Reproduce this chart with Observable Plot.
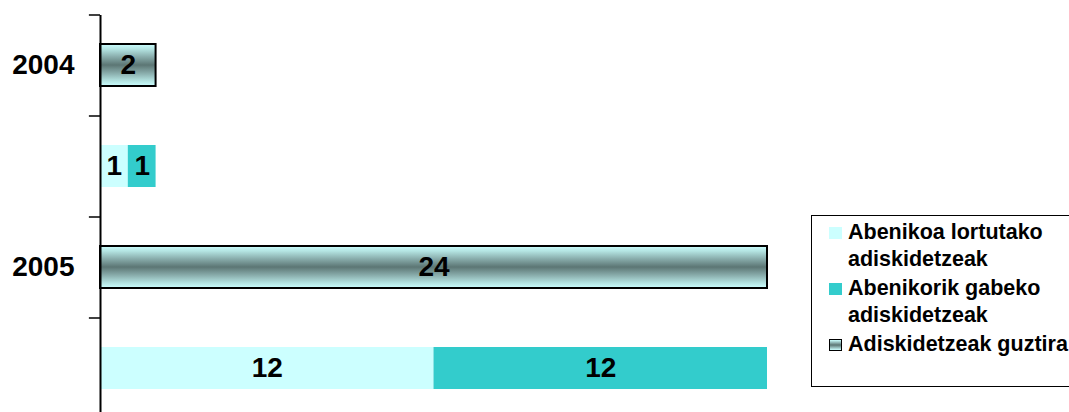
<!DOCTYPE html>
<html>
<head>
<meta charset="utf-8">
<script src="https://cdn.jsdelivr.net/npm/d3@7"></script>
<script src="https://cdn.jsdelivr.net/npm/@observablehq/plot@0.6"></script>
<style>
  html, body { margin: 0; padding: 0; background: #fff; overflow: hidden; }
  body { position: relative; width: 1069px; height: 412px; font-family: "Liberation Sans", Arial, sans-serif; }
  #legend {
    position: absolute; left: 811px; top: 215px; width: 290px; height: 172px;
    border: 1.5px solid #000; background: #fff; box-sizing: border-box;
    padding: 3px 0 0 17px; font-weight: bold; font-size: 21.5px; line-height: 27px; color: #000;
  }
  .item { display: flex; align-items: flex-start; margin-bottom: 2px; }
  .sw { width: 13px; height: 12px; flex: none; margin: 8px 6px 0 0; box-sizing: border-box; }
</style>
</head>
<body>
<div id="chart"></div>
<div id="legend"></div>
<script>
const years = ["2004", "2005"];
const seriesNames = ["Abenikoa lortutako adiskidetzeak", "Abenikorik gabeko adiskidetzeak", "Adiskidetzeak guztira"];
const lortutako = [1, 12];
const gabeko = [1, 12];
const guztira = [2, 24];
const colors = ["#ccffff", "#33cccc"];

const rowDomain = [];
const totals = [];
const parts = [];
years.forEach((yr, i) => {
  rowDomain.push(yr + " guztira", yr + " zatiak");
  totals.push({row: yr + " guztira", year: yr, value: guztira[i]});
  parts.push({row: yr + " zatiak", series: seriesNames[0], value: lortutako[i]});
  parts.push({row: yr + " zatiak", series: seriesNames[1], value: gabeko[i]});
});

const yRange = [15, 419];
const step = (yRange[1] - yRange[0]) / rowDomain.length;
const labelFont = {fontSize: 28, fontWeight: "bold", fill: "#000"};

const chart = Plot.plot({
  width: 1069,
  height: 412,
  marginTop: 15,
  marginBottom: 0,
  marginLeft: 100,
  marginRight: 302,
  style: {fontFamily: "Liberation Sans, Arial, sans-serif", background: "white", overflow: "visible"},
  x: {domain: [0, 24], axis: null},
  y: {domain: rowDomain, range: yRange, paddingInner: 0.58, paddingOuter: 0.29},
  color: {domain: seriesNames.slice(0, 2), range: colors},
  marks: [
    Plot.barX(parts, Plot.stackX({x: "value", y: "row", fill: "series", order: seriesNames})),
    Plot.text(parts, Plot.stackX({x: "value", y: "row", z: "series", text: "value", order: seriesNames, ...labelFont})),
    Plot.barX(totals, {x: "value", y: "row", fill: "url(#gradTotal)", stroke: "#000", strokeWidth: 2}),
    Plot.text(totals, {x: d => d.value / 2, y: "row", text: "value", ...labelFont}),
    Plot.ruleX([0], {stroke: "#000", strokeWidth: 2}),
    Plot.ruleY(rowDomain, {y: d => d, x1: -0.4, x2: 0, dy: -step / 2, stroke: "#000", strokeWidth: 1.5}),
    Plot.axisY({
      tickSize: 0, tickPadding: 26, fontSize: 28, fontWeight: "bold", fill: "#000",
      tickFormat: d => d.endsWith("guztira") ? d.split(" ")[0] : "", label: null
    })
  ]
});

const svg = d3.select(chart);
const grad = svg.insert("defs", ":first-child").append("linearGradient")
  .attr("id", "gradTotal").attr("x1", 0).attr("y1", 0).attr("x2", 0).attr("y2", 1);
[[0, "#ccffff"], [0.12, "#b4e4e2"], [0.3, "#8aaead"], [0.5, "#5c7674"], [0.7, "#8aaead"], [0.88, "#b4e4e2"], [1, "#ccffff"]]
  .forEach(([o, c]) => grad.append("stop").attr("offset", o).attr("stop-color", c));
document.getElementById("chart").appendChild(chart);

// legend
const swatchStyles = [
  `background:${colors[0]}`,
  `background:${colors[1]}`,
  `background:linear-gradient(#ccffff, #5c7674 50%, #ccffff);border:1.5px solid #000`
];
const legend = document.getElementById("legend");
seriesNames.forEach((name, i) => {
  const parts = name.split(" ");
  const text = i < 2 ? parts.slice(0, 2).join(" ") + "<br>" + parts.slice(2).join(" ") : name;
  legend.insertAdjacentHTML("beforeend",
    `<div class="item"><div class="sw" style="${swatchStyles[i]}"></div><div>${text}</div></div>`);
});
</script>
</body>
</html>
